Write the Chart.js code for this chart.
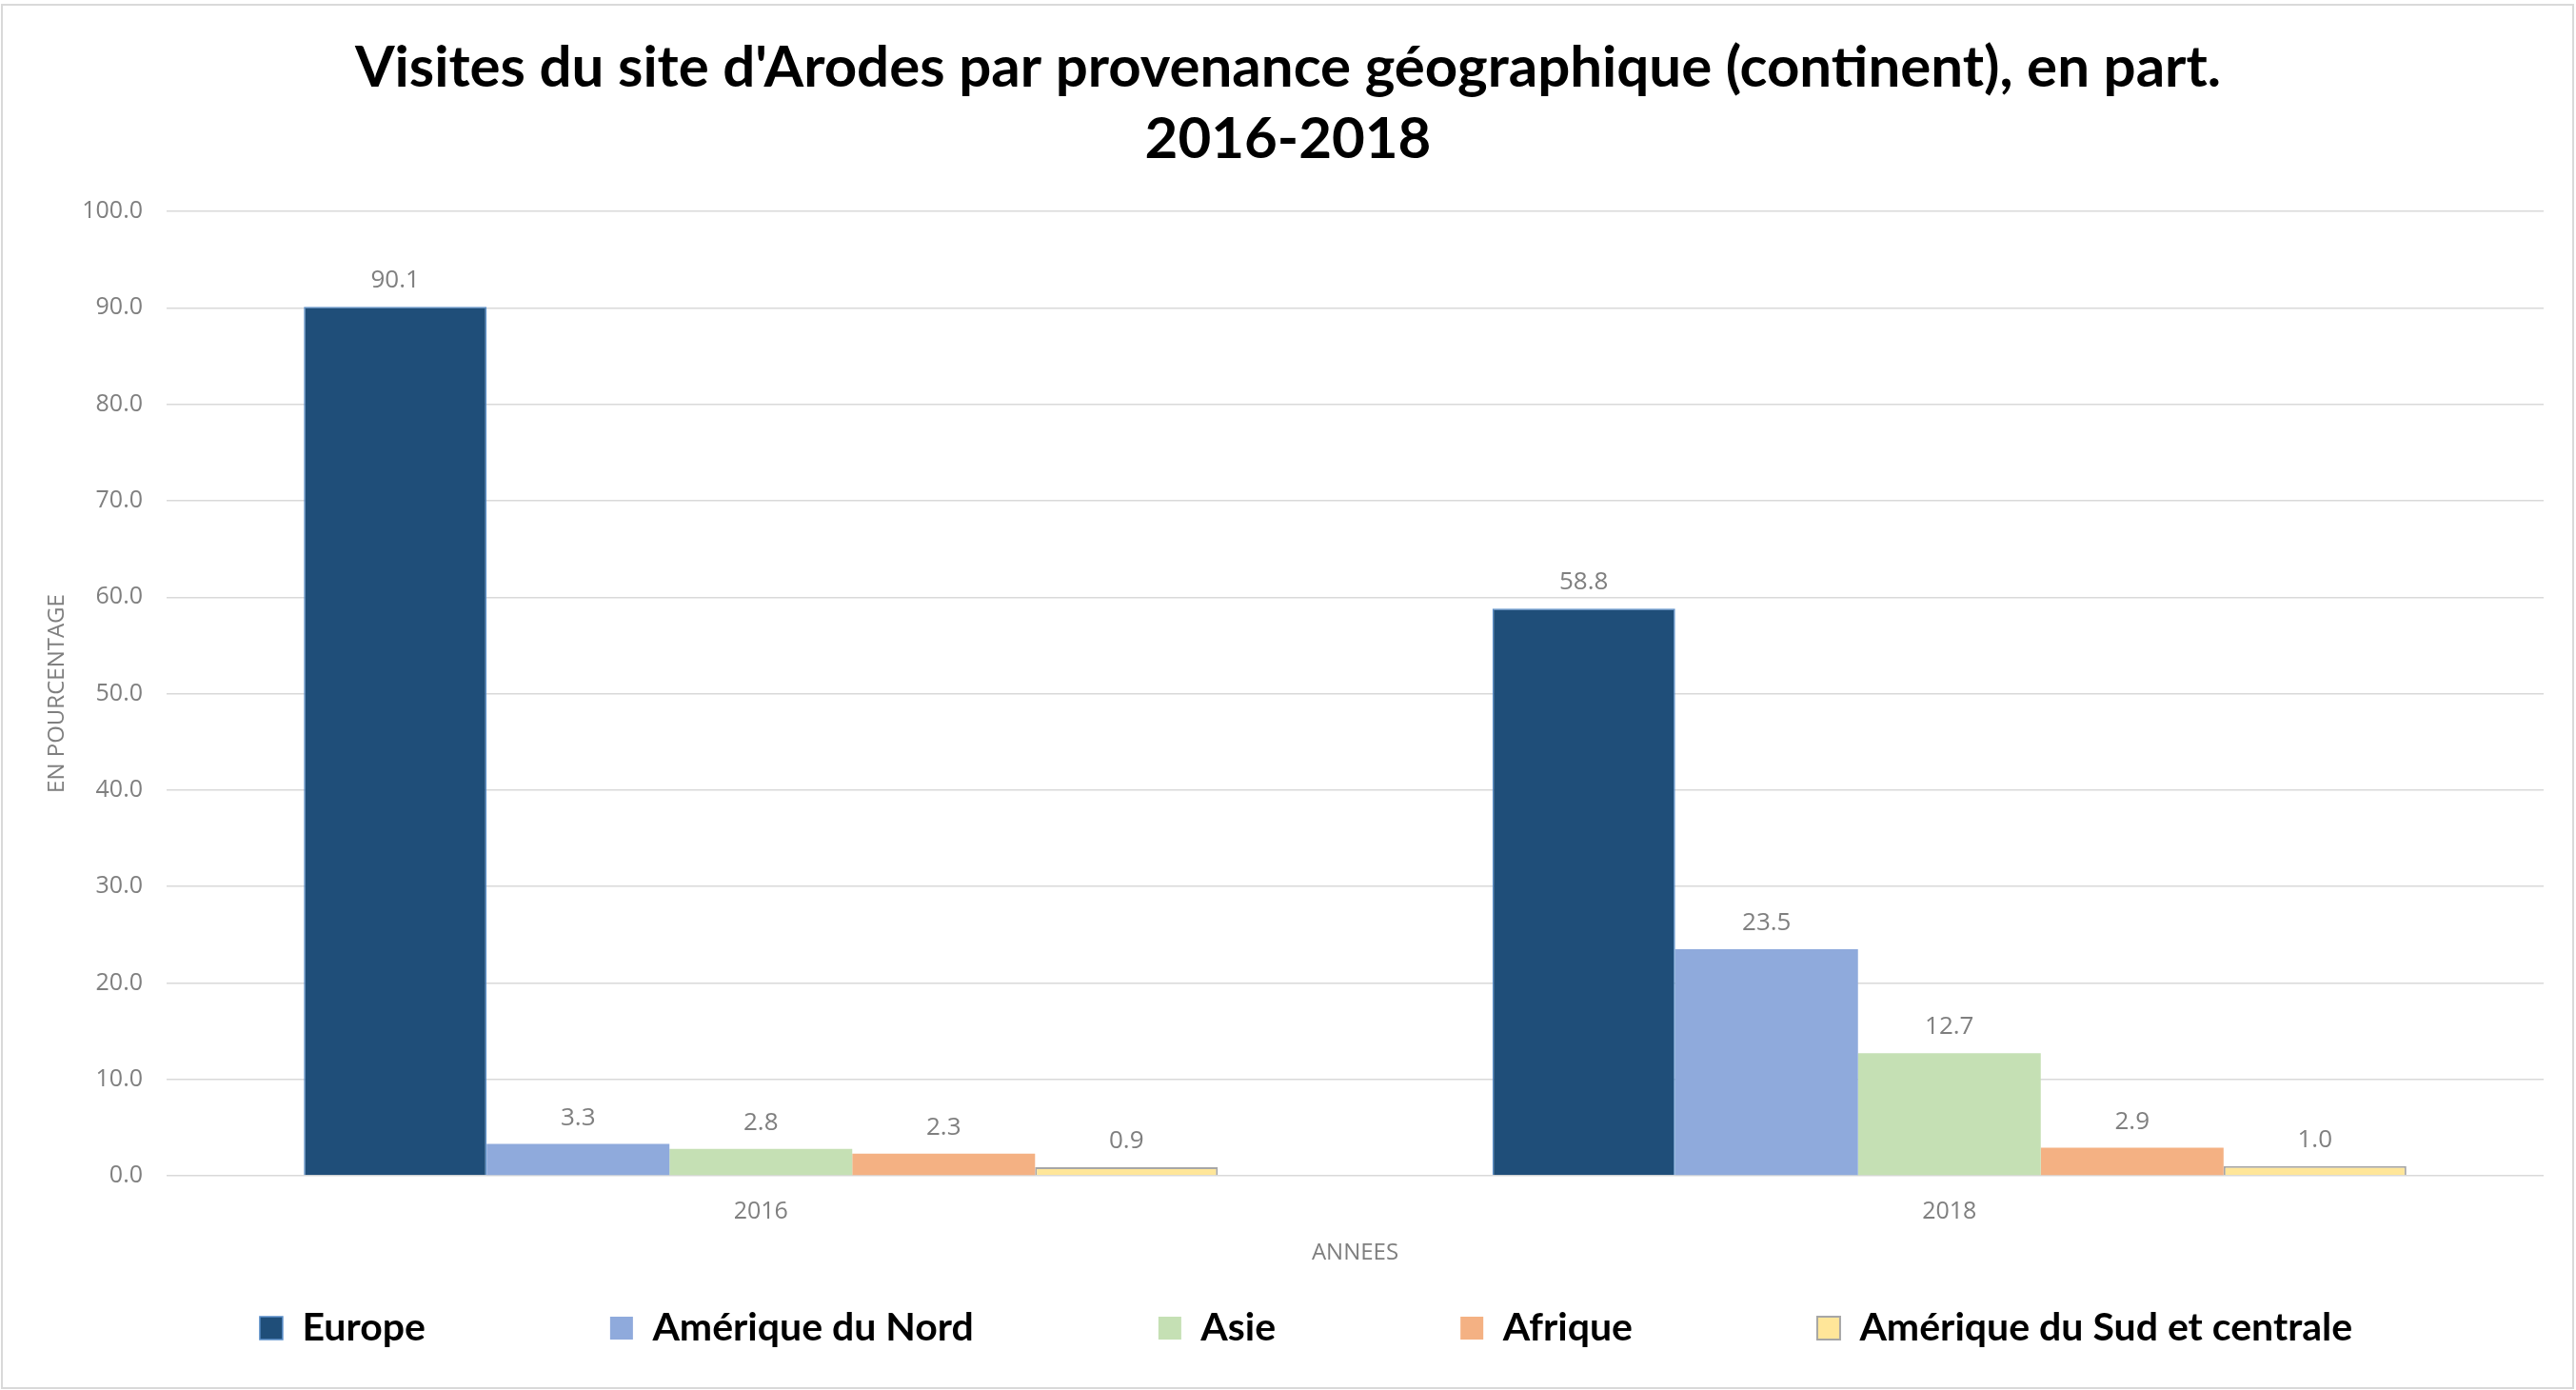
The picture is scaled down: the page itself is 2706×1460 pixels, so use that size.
<!DOCTYPE html>
<html>
<head>
<meta charset="utf-8">
<script src="https://cdn.jsdelivr.net/npm/chart.js@4/dist/chart.umd.min.js"></script>
<style>
  html, body { margin: 0; padding: 0; background: #ffffff; }
  #wrap { width: 2706px; height: 1460px; }
</style>
</head>
<body>
<div id="wrap"><canvas id="c" width="2706" height="1460"></canvas></div>
<script>
// ---- data ----
const categories = ['2016', '2018'];
const seriesNames = ['Europe', 'Amérique du Nord', 'Asie', 'Afrique', 'Amérique du Sud et centrale'];
const europe = [90.1, 58.8];
const ameriqueNord = [3.3, 23.5];
const asie = [2.8, 12.7];
const afrique = [2.3, 2.9];
const ameriqueSud = [0.9, 1.0];
const titleLines = ["Visites du site d'Arodes par provenance géographique (continent), en part.", '2016-2018'];
const yAxisTitle = 'EN POURCENTAGE';
const xAxisTitle = 'ANNEES';
const yMin = 0, yMax = 100, yStep = 10;

// ---- styles ----
const fills = ['#1F4E79', '#8FAADC', '#C5E0B4', '#F4B183', '#FFE699'];
const borders = ['#5B8FC9', '#8FAADC', '#C5E0B4', '#F4B183', '#A6A6A6'];
const borderWidths = [1.5, 0, 0, 0, 2];
const seriesValues = [europe, ameriqueNord, asie, afrique, ameriqueSud];

const LEGEND_PAD = 194;
const LEGEND_FONT = 41;

const valueLabels = {
  id: 'valueLabels',
  afterDatasetsDraw(chart) {
    const ctx = chart.ctx;
    ctx.save();
    ctx.font = '26px "Open Sans"';
    ctx.fillStyle = '#7F7F7F';
    ctx.textAlign = 'center';
    ctx.textBaseline = 'alphabetic';
    chart.data.datasets.forEach((ds, i) => {
      const meta = chart.getDatasetMeta(i);
      meta.data.forEach((el, j) => {
        ctx.fillText(ds.data[j].toFixed(1), el.x, el.y - 20);
      });
    });
    ctx.restore();
  }
};

const frame = {
  id: 'frame',
  afterLayout(chart) {
    const t = chart.titleBlock;
    if (t) { t.left = 0; t.right = chart.width; t.width = chart.width; }
    const lg = chart.legend;
    if (lg) {
      const itemCenter = 1395;
      lg.top = itemCenter - LEGEND_FONT / 2 - LEGEND_PAD;
      lg.bottom = chart.height;
      lg.height = lg.bottom - lg.top;
      lg.left = 36; lg.right = chart.width + 2; lg.width = lg.right - lg.left;
    }
  },
  beforeDraw(chart) {
    const ctx = chart.ctx;
    ctx.save();
    ctx.fillStyle = '#ffffff';
    ctx.fillRect(0, 0, chart.width, chart.height);
    ctx.strokeStyle = '#D9D9D9';
    ctx.lineWidth = 2;
    ctx.strokeRect(2, 5, chart.width - 5, chart.height - 7);
    ctx.restore();
  }
};

new Chart(document.getElementById('c'), {
  type: 'bar',
  data: {
    labels: categories,
    datasets: seriesNames.map((name, i) => ({
      label: name,
      data: seriesValues[i],
      backgroundColor: fills[i],
      borderColor: borders[i],
      borderWidth: borderWidths[i],
      categoryPercentage: 0.769,
      barPercentage: 1.0
    }))
  },
  options: {
    responsive: false,
    animation: false,
    devicePixelRatio: 1,
    layout: { padding: { left: 0, right: 34, top: 0, bottom: 0 } },
    plugins: {
      tooltip: { enabled: false },
      title: {
        display: true,
        text: titleLines,
        color: '#000000',
        font: { family: 'Lato', size: 60, weight: 'bold', lineHeight: 75 / 60 },
        padding: { top: 34.5, bottom: 37.5 }
      },
      legend: {
        display: true,
        position: 'bottom',
        maxHeight: 129,
        labels: {
          boxWidth: 24,
          boxHeight: 24,
          padding: LEGEND_PAD,
          color: '#000000',
          font: { family: 'Lato', size: LEGEND_FONT, weight: 'bold' }
        }
      }
    },
    scales: {
      x: {
        grid: { display: false, drawTicks: false },
        border: { display: false },
        ticks: { color: '#7F7F7F', font: { family: 'Open Sans', size: 25 }, padding: 23 },
        title: { display: true, text: xAxisTitle, color: '#7F7F7F', font: { family: 'Open Sans', size: 24 }, padding: { top: 0, bottom: 0 } },
        afterFit(scale) { scale.height = 96; }
      },
      y: {
        min: yMin,
        max: yMax,
        grid: { color: '#D9D9D9', lineWidth: 1.4, drawTicks: false },
        border: { display: false },
        ticks: {
          stepSize: yStep,
          color: '#7F7F7F',
          font: { family: 'Open Sans', size: 25 },
          padding: 25,
          callback: (v) => Number(v).toFixed(1)
        },
        title: { display: true, text: yAxisTitle, color: '#7F7F7F', font: { family: 'Open Sans', size: 24 }, padding: { top: 45.6, bottom: 0 } },
        afterFit(scale) { scale.width = 175; }
      }
    }
  },
  plugins: [valueLabels, frame]
});
</script>
</body>
</html>
